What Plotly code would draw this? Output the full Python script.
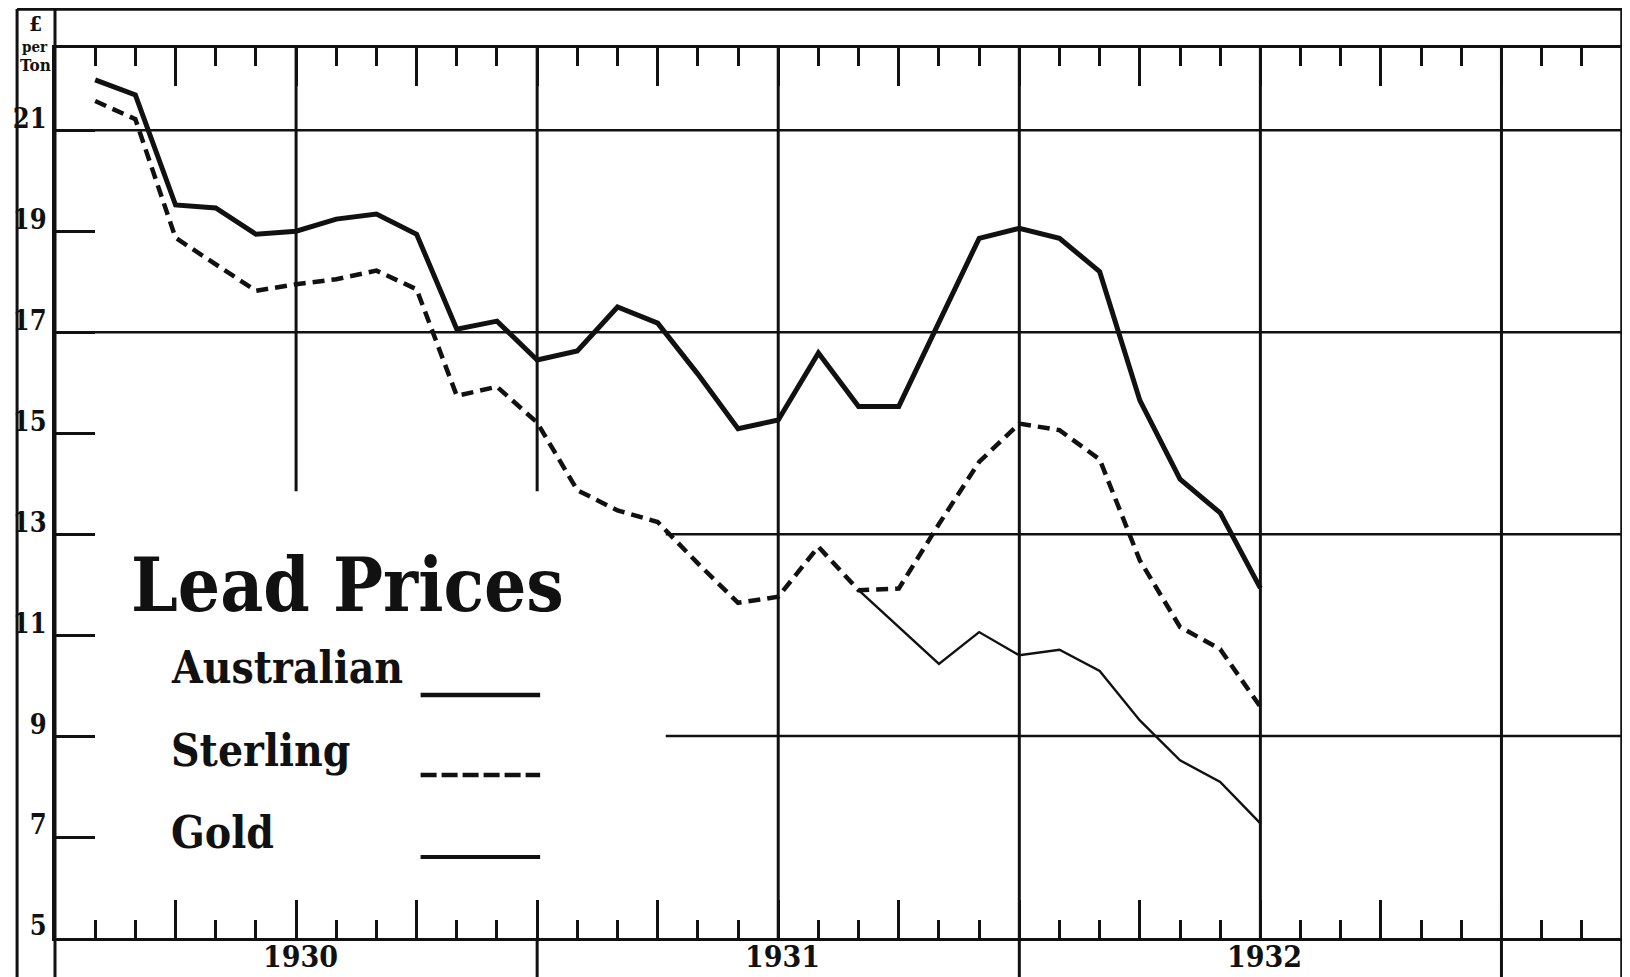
import plotly.graph_objects as go

# ---------------- data (monthly, £ per ton) ----------------
months = ["1930-02", "1930-03", "1930-04", "1930-05", "1930-06", "1930-07",
          "1930-08", "1930-09", "1930-10", "1930-11", "1930-12", "1931-01",
          "1931-02", "1931-03", "1931-04", "1931-05", "1931-06", "1931-07",
          "1931-08", "1931-09", "1931-10", "1931-11", "1931-12", "1932-01",
          "1932-02", "1932-03", "1932-04", "1932-05", "1932-06", "1932-07"]

australian = [22.0, 21.7, 19.52, 19.46, 18.94, 19.0, 19.24, 19.34, 18.94, 17.06,
              17.22, 16.45, 16.63, 17.5, 17.18, 16.17, 15.09, 15.26, 16.59, 15.53,
              15.53, 17.2, 18.86, 19.06, 18.86, 18.2, 15.65, 14.09, 13.42, 11.93]

sterling = [21.58, 21.22, 18.87, 18.35, 17.82, 17.95, 18.05, 18.22, 17.85, 15.74,
            15.92, 15.21, 13.87, 13.47, 13.24, 12.42, 11.64, 11.76, 12.75, 11.89,
            11.92, 13.2, 14.43, 15.19, 15.06, 14.48, 12.48, 11.16, 10.72, 9.58]

gold_months = ["1931-09", "1931-10", "1931-11", "1931-12", "1932-01", "1932-02",
               "1932-03", "1932-04", "1932-05", "1932-06", "1932-07"]
gold = [11.89, 11.15, 10.43, 11.06, 10.6, 10.71, 10.29, 9.31, 8.52, 8.09, 7.27]

ytick_vals = [5, 7, 9, 11, 13, 15, 17, 19, 21]
ytick_text = ["5", "7", "9", "11", "13", "15", "17", "19", "21"]
year_labels = ["1930", "1931", "1932"]
series_names = ["Australian", "Sterling", "Gold"]
title_text = "Lead Prices"
unit_text = ["£", "per", "Ton"]


def month_pos(s):
    """months since January 1930"""
    y, m = s.split("-")
    return (int(y) - 1930) * 12 + int(m) - 1


x_main = [month_pos(m) for m in months]
x_gold = [month_pos(m) for m in gold_months]
year_pos = [(int(y) - 1930) * 12 + 6 for y in year_labels]

# ---------------- styling ----------------
FONT = "DejaVu Serif Condensed, DejaVu Serif, serif"
INK = "#111111"
X_MAX = 39
Y_MIN, Y_MAX = 5, 22.63
PB = -0.0438   # bottom of label band (paper)
PT = 1.0438    # top frame (paper)
PL = -0.0242   # left frame (paper)

fig = go.Figure()

fig.add_trace(go.Scatter(x=x_main, y=australian, mode="lines", name=series_names[0],
                         line=dict(color=INK, width=5)))
fig.add_trace(go.Scatter(x=x_main, y=sterling, mode="lines", name=series_names[1],
                         line=dict(color=INK, width=4.5, dash="12px,7px")))
fig.add_trace(go.Scatter(x=x_gold, y=gold, mode="lines", name=series_names[2],
                         line=dict(color=INK, width=2.4)))

shapes = []


def seg(x0, y0, x1, y1, xref="x", yref="y", width=2.5, dash=None):
    d = dict(type="line", x0=x0, y0=y0, x1=x1, y1=y1, xref=xref, yref=yref,
             line=dict(color=INK, width=width), layer="below")
    if dash:
        d["line"]["dash"] = dash
    shapes.append(d)


# horizontal rulings
for v in (21, 17):
    seg(0, v, X_MAX, v)
for v in (13, 9):
    seg(15.2, v, X_MAX, v)

# vertical rulings
for m in (6, 12):
    seg(m, 13.85, m, Y_MAX, width=3)
for m in (18, 30):
    seg(m, Y_MIN, m, Y_MAX, width=3)
for m in (24, 36):
    seg(m, PB, m, 1, yref="paper", width=3)
seg(12, PB, 12, 0, yref="paper", width=3)

# outer frame and extended left axis
seg(PL, PT, 1, PT, xref="paper", yref="paper", width=3.5)
seg(PL, PB, PL, PT, xref="paper", yref="paper", width=3)
seg(1, PB, 1, PT, xref="paper", yref="paper", width=3.5)
seg(0, PB, 0, PT, xref="paper", yref="paper", width=3)


# page-pixel helpers (plot area spans x 52..1625, y 48..938 on the page)
def px_x(p):
    return (p - 52) / 1573


def px_y(p):
    return (938 - p) / 890


# legend samples
seg(px_x(419), px_y(695), px_x(539), px_y(695), "paper", "paper", width=4.5)
seg(px_x(419), px_y(775), px_x(539), px_y(775), "paper", "paper", width=4.5, dash="16px,5px")
seg(px_x(419), px_y(857), px_x(539), px_y(857), "paper", "paper", width=4)

annotations = []
annotations.append(dict(text=title_text, x=px_x(126), y=px_y(585), xref="paper", yref="paper",
                        xanchor="left", yanchor="middle", showarrow=False,
                        font=dict(family=FONT, size=74, color=INK, weight=700)))
for name, cy in zip(series_names, (668, 750, 832)):
    annotations.append(dict(text=name, x=px_x(166), y=px_y(cy), xref="paper", yref="paper",
                            xanchor="left", yanchor="middle", showarrow=False,
                            font=dict(family=FONT, size=44, color=INK, weight=700)))
for lab, xp in zip(year_labels, year_pos):
    annotations.append(dict(text=lab, x=xp + 0.1, y=px_y(957), xref="x", yref="paper",
                            xanchor="center", yanchor="middle", showarrow=False,
                            font=dict(family=FONT, size=30, color=INK, weight=700)))
for t, cy, sz in zip(unit_text, (24, 47, 65), (21, 15, 17)):
    annotations.append(dict(text=t, x=px_x(32), y=px_y(cy), xref="paper", yref="paper",
                            xanchor="center", yanchor="middle", showarrow=False,
                            font=dict(family=FONT, size=sz, color=INK, weight=700)))

# The page body has an 8px margin, so the figure is 8px smaller than the window
fig.update_layout(
    width=1622, height=969,
    margin=dict(l=44, r=5, t=40, b=39, pad=0),
    paper_bgcolor="white", plot_bgcolor="white",
    showlegend=False,
    shapes=shapes, annotations=annotations,
    xaxis=dict(range=[0, X_MAX], showline=True, linecolor=INK, linewidth=3,
               mirror="ticks", ticks="inside", tick0=0, dtick=3, ticklen=38,
               tickwidth=3, tickcolor=INK, showticklabels=False, showgrid=False,
               zeroline=False,
               minor=dict(tick0=0, dtick=1, ticks="inside", ticklen=18, tickwidth=2.5,
                          tickcolor=INK, showgrid=False)),
    yaxis=dict(range=[Y_MIN, Y_MAX], showline=True, linecolor=INK, linewidth=3,
               mirror=True, ticks="inside", tickvals=ytick_vals, ticktext=ytick_text,
               ticklen=40, tickwidth=2.5, tickcolor=INK, showgrid=False, zeroline=False,
               ticklabelshift=-12, ticklabelstandoff=0,
               tickfont=dict(family=FONT, size=27, color=INK, weight=700)),
)

fig.write_html("out.html")
